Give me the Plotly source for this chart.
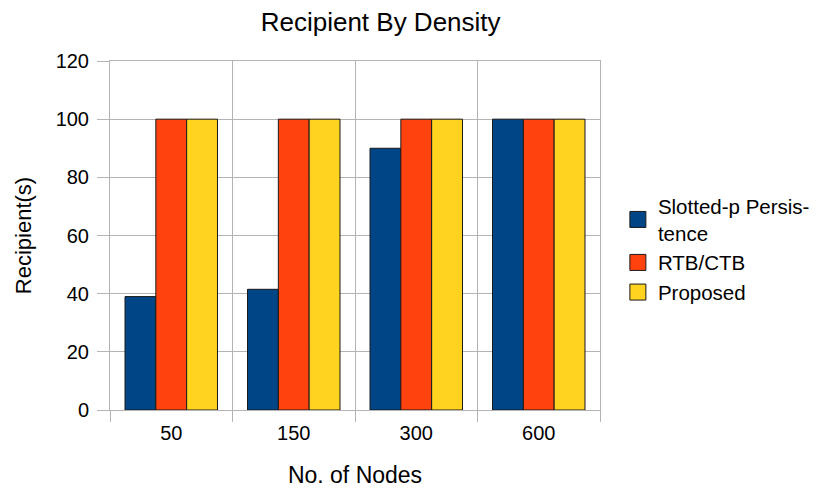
import plotly.graph_objects as go

categories = ["50", "150", "300", "600"]
slotted = [39, 41.5, 90, 100]
rtb_ctb = [100, 100, 100, 100]
proposed = [100, 100, 100, 100]
y_ticks = [0, 20, 40, 60, 80, 100, 120]

series = [
    ("Slotted-p Persis-<br>tence", slotted, "#004586"),
    ("RTB/CTB", rtb_ctb, "#ff420e"),
    ("Proposed", proposed, "#ffd320"),
]

font = "Liberation Sans, Arial, sans-serif"
fig = go.Figure()
for i, (name, vals, col) in enumerate(series):
    fig.add_trace(go.Bar(x=categories, y=vals, name=name, legendgroup=str(i), showlegend=False,
                         marker=dict(color=col, line=dict(color="#1a1a1a", width=1))))
for i, (name, vals, col) in enumerate(series):
    fig.add_trace(go.Scatter(x=[None], y=[None], mode="markers", name=name, legendgroup=str(i),
                             marker=dict(symbol="square", size=16, color=col,
                                         line=dict(color="#1a1a1a", width=1))))

fig.update_layout(
    width=819, height=493,
    barmode="group", bargap=0.245, bargroupgap=0,
    plot_bgcolor="white", paper_bgcolor="white",
    margin=dict(l=102, r=224, t=53, b=91),
    font=dict(family=font, color="#000000", size=20),
    title=dict(text="Recipient By Density", x=0.455, xanchor="center", y=0.972, yanchor="middle",
               font=dict(size=26)),
    legend=dict(x=1.0365, xanchor="left", y=0.641, yanchor="top",
                font=dict(size=20.5), tracegroupgap=0, itemwidth=30),
    xaxis=dict(tickson="boundaries", showgrid=True, gridcolor="#b3b3b3",
               showline=True, linecolor="#b3b3b3", mirror=True,
               ticks="outside", ticklen=11, tickcolor="#b3b3b3", ticklabelstandoff=5,
               title=dict(text="No. of Nodes", font=dict(size=23), standoff=23)),
    yaxis=dict(range=[0, 120], tickvals=y_ticks, showgrid=True, gridcolor="#b3b3b3",
               showline=True, linecolor="#b3b3b3", mirror=True, zeroline=False,
               ticks="outside", ticklen=12, tickcolor="#b3b3b3", ticklabelstandoff=4,
               title=dict(text="Recipient(s)", font=dict(size=22), standoff=17)),
)
fig.write_html("out.html")
